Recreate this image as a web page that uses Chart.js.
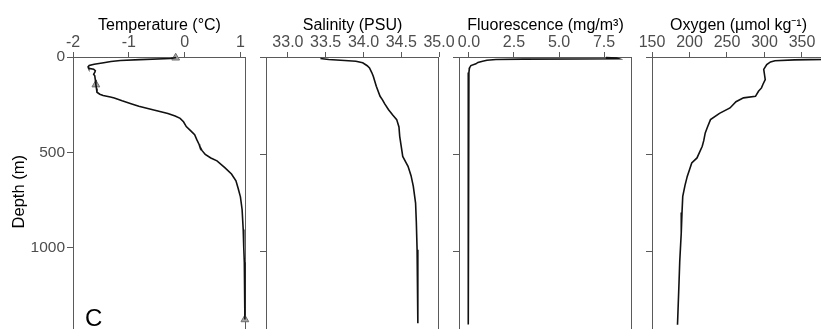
<!DOCTYPE html>
<html><head><meta charset="utf-8">
<script src="https://cdn.jsdelivr.net/npm/chart.js@4"></script>
<style>
html,body{margin:0;padding:0;background:#fff;overflow:hidden;width:821px;height:329px;position:relative;}
canvas{position:absolute;top:0;}
</style></head><body>
<canvas id="c1"></canvas><canvas id="c2"></canvas><canvas id="c3"></canvas><canvas id="c4"></canvas>
<script>
// ---- data ----
const depthTicks = [0, 500, 1000];

const tempTicks = [-2, -1, 0, 1];
const tempDepth = [3, 8, 14, 18, 24, 30, 38, 45, 52, 59, 64, 72, 81, 90, 99, 120, 145, 165, 185, 195, 202, 210, 215, 230, 245, 258, 270, 283, 296, 310, 322, 340, 365, 390, 408, 435, 459, 468, 490, 511, 530, 545, 580, 614, 650, 690, 734, 800, 905, 1000, 1077, 1163, 1250, 1377];
const tempValue = [-0.15, -0.25, -0.8, -1.15, -1.32, -1.45, -1.62, -1.71, -1.73, -1.72, -1.63, -1.6, -1.61, -1.63, -1.61, -1.6, -1.59, -1.58, -1.57, -1.52, -1.46, -1.33, -1.26, -1.12, -0.96, -0.82, -0.66, -0.48, -0.3, -0.17, -0.08, -0.02, 0.03, 0.12, 0.18, 0.22, 0.26, 0.27, 0.31, 0.37, 0.47, 0.58, 0.72, 0.84, 0.92, 0.96, 1.0, 1.03, 1.05, 1.06, 1.07, 1.08, 1.08, 1.08];
const tempMarkerDepth = [4, 145, 1377];
const tempMarkerValue = [-0.16, -1.59, 1.08];

const salTicks = [33.0, 33.5, 34.0, 34.5, 35.0];
const salDepth = [8, 13, 18, 22, 30, 45, 56, 80, 99, 150, 202, 219, 240, 270, 300, 322, 360, 408, 460, 511, 540, 562, 610, 665, 751, 850, 991, 1150, 1369];
const salValue = [33.43, 33.54, 33.75, 33.9, 33.99, 34.05, 34.08, 34.11, 34.13, 34.17, 34.22, 34.25, 34.28, 34.33, 34.39, 34.44, 34.47, 34.48, 34.5, 34.52, 34.56, 34.59, 34.63, 34.66, 34.69, 34.7, 34.71, 34.72, 34.72];

const fluTicks = [0.0, 2.5, 5.0, 7.5];
const fluDepth = [3, 6, 9, 10, 11, 13, 17, 22, 28, 35, 44, 55, 64, 80, 100, 200, 400, 600, 800, 1000, 1200, 1375];
const fluValue = [7.6, 8.2, 8.3, 6.0, 3.0, 1.5, 1.0, 0.76, 0.5, 0.39, 0.11, 0.04, 0.02, 0.0, -0.02, -0.03, -0.04, -0.04, -0.04, -0.04, -0.04, -0.04];

const oxyTicks = [150, 200, 250, 300, 350];
const oxyDepth = [4, 12, 15, 19, 25, 39, 64, 90, 116, 140, 159, 176, 202, 210, 230, 262, 290, 322, 360, 390, 430, 459, 519, 545, 580, 614, 660, 717, 800, 905, 1050, 1163, 1377];
const oxyValue = [385, 380, 340, 314, 308, 303, 299, 300, 301, 298, 296, 292, 288, 272, 262, 254, 240, 228, 224, 221, 219, 217, 210, 203, 200, 197, 194, 191, 190, 189, 187, 186, 184];

const panelTitles = ['Temperature (°C)', 'Salinity (PSU)', 'Fluorescence (mg/m³)', 'Oxygen (µmol kg⁻¹)'];
const depthTitle = 'Depth (m)';
const panelLetter = 'C';

// ---- rendering ----
const FAM = '"Liberation Sans", Arial, Helvetica, sans-serif';
const AX = '#5a5a5a';
const TXT = '#4d4d4d';
const Y_W = 73, PLOT_W = 173, PAD_R = 20, X_H = 57, CAN_H = 332;
const depthMax = (CAN_H - X_H) / (194.5 / 1000);

function pts(xs, ys) { return xs.map((v, i) => ({x: v, y: ys[i]})); }

const framePlugin = {
  id: 'frame',
  beforeDatasetsDraw(chart) {
    const {ctx, chartArea: a} = chart;
    ctx.save();
    ctx.strokeStyle = AX;
    ctx.lineWidth = 1;
    ctx.strokeRect(Math.round(a.left) + 0.5, Math.round(a.top) + 0.5, Math.round(a.right - a.left) - 1, Math.round(a.bottom - a.top) + 5);
    ctx.restore();
  }
};
const letterPlugin = {
  id: 'letter',
  afterDraw(chart) {
    const ctx = chart.ctx;
    ctx.save();
    ctx.fillStyle = '#000';
    ctx.font = '24px ' + FAM;
    ctx.textBaseline = 'alphabetic';
    ctx.fillText(panelLetter, chart.chartArea.left + 12, 325.5);
    ctx.restore();
  }
};

function lineSet(xs, ys) {
  return {data: pts(xs, ys), showLine: true, borderColor: '#111', borderWidth: 1.6, pointRadius: 0, tension: 0, clip: 2};
}

function makePanel(id, plotLeft, xmin, xmax, xticks, dec, title, datasets, showY, extraPlugins) {
  const cv = document.getElementById(id);
  const w = Y_W + PLOT_W + PAD_R;
  cv.width = w; cv.height = CAN_H;
  cv.style.width = w + 'px'; cv.style.height = CAN_H + 'px';
  cv.style.left = (plotLeft - Y_W) + 'px';
  const xgrid = {display: true, drawOnChartArea: false, drawTicks: true, tickLength: 5, color: AX, lineWidth: 1};
  const ygrid = {display: true, drawOnChartArea: false, drawTicks: true, tickLength: 6, color: AX, lineWidth: 1};
  new Chart(cv, {
    type: 'scatter',
    data: {datasets},
    options: {
      responsive: false, animation: false, devicePixelRatio: 1,
      layout: {padding: {left: 0, right: PAD_R, top: 0, bottom: 0}},
      plugins: {legend: {display: false}, tooltip: {enabled: false}},
      scales: {
        x: {
          type: 'linear', position: 'top', min: xmin, max: xmax,
          afterBuildTicks: s => { s.ticks = xticks.map(v => ({value: v})); },
          afterFit: s => { s.height = X_H; s.paddingLeft = 0; s.paddingRight = 0; },
          ticks: {autoSkip: false, maxRotation: 0, minRotation: 0, padding: 0, color: TXT,
                  font: {size: 16, family: FAM}, callback: v => Number(v).toFixed(dec)},
          grid: xgrid,
          border: {display: false},
          title: {display: true, text: title, color: '#000', font: {size: 16, family: FAM}, padding: {top: 16, bottom: 0}}
        },
        y: {
          type: 'linear', position: 'left', reverse: true, min: 0, max: depthMax,
          afterBuildTicks: s => { s.ticks = depthTicks.map(v => ({value: v})); },
          afterFit: s => { s.width = Y_W; s.paddingTop = 0; s.paddingBottom = 0; },
          ticks: {display: showY, padding: 2, color: TXT, font: {size: 15.5, family: FAM}, callback: v => String(v)},
          grid: ygrid,
          border: {display: false},
          title: {display: showY, text: depthTitle, color: '#000', font: {size: 16.5, family: FAM}, padding: {top: 10, bottom: 0}}
        }
      }
    },
    plugins: [framePlugin].concat(extraPlugins || [])
  });
}

makePanel('c1', 73, -2, 1.1, tempTicks, 0, panelTitles[0], [
  lineSet(tempValue, tempDepth),
  {data: pts(tempMarkerValue, tempMarkerDepth), showLine: false, pointStyle: 'triangle', pointRadius: 4.5,
   backgroundColor: '#a8a8a8', borderColor: '#6e6e6e', borderWidth: 1, clip: false}
], true, [letterPlugin]);
makePanel('c2', 266, 32.71, 35.0, salTicks, 1, panelTitles[1], [lineSet(salValue, salDepth)], false);
makePanel('c3', 459, -0.55, 9.05, fluTicks, 1, panelTitles[2], [lineSet(fluValue, fluDepth)], false);
makePanel('c4', 652, 150, 380.7, oxyTicks, 0, panelTitles[3], [lineSet(oxyValue, oxyDepth)], false);
</script>
</body></html>
